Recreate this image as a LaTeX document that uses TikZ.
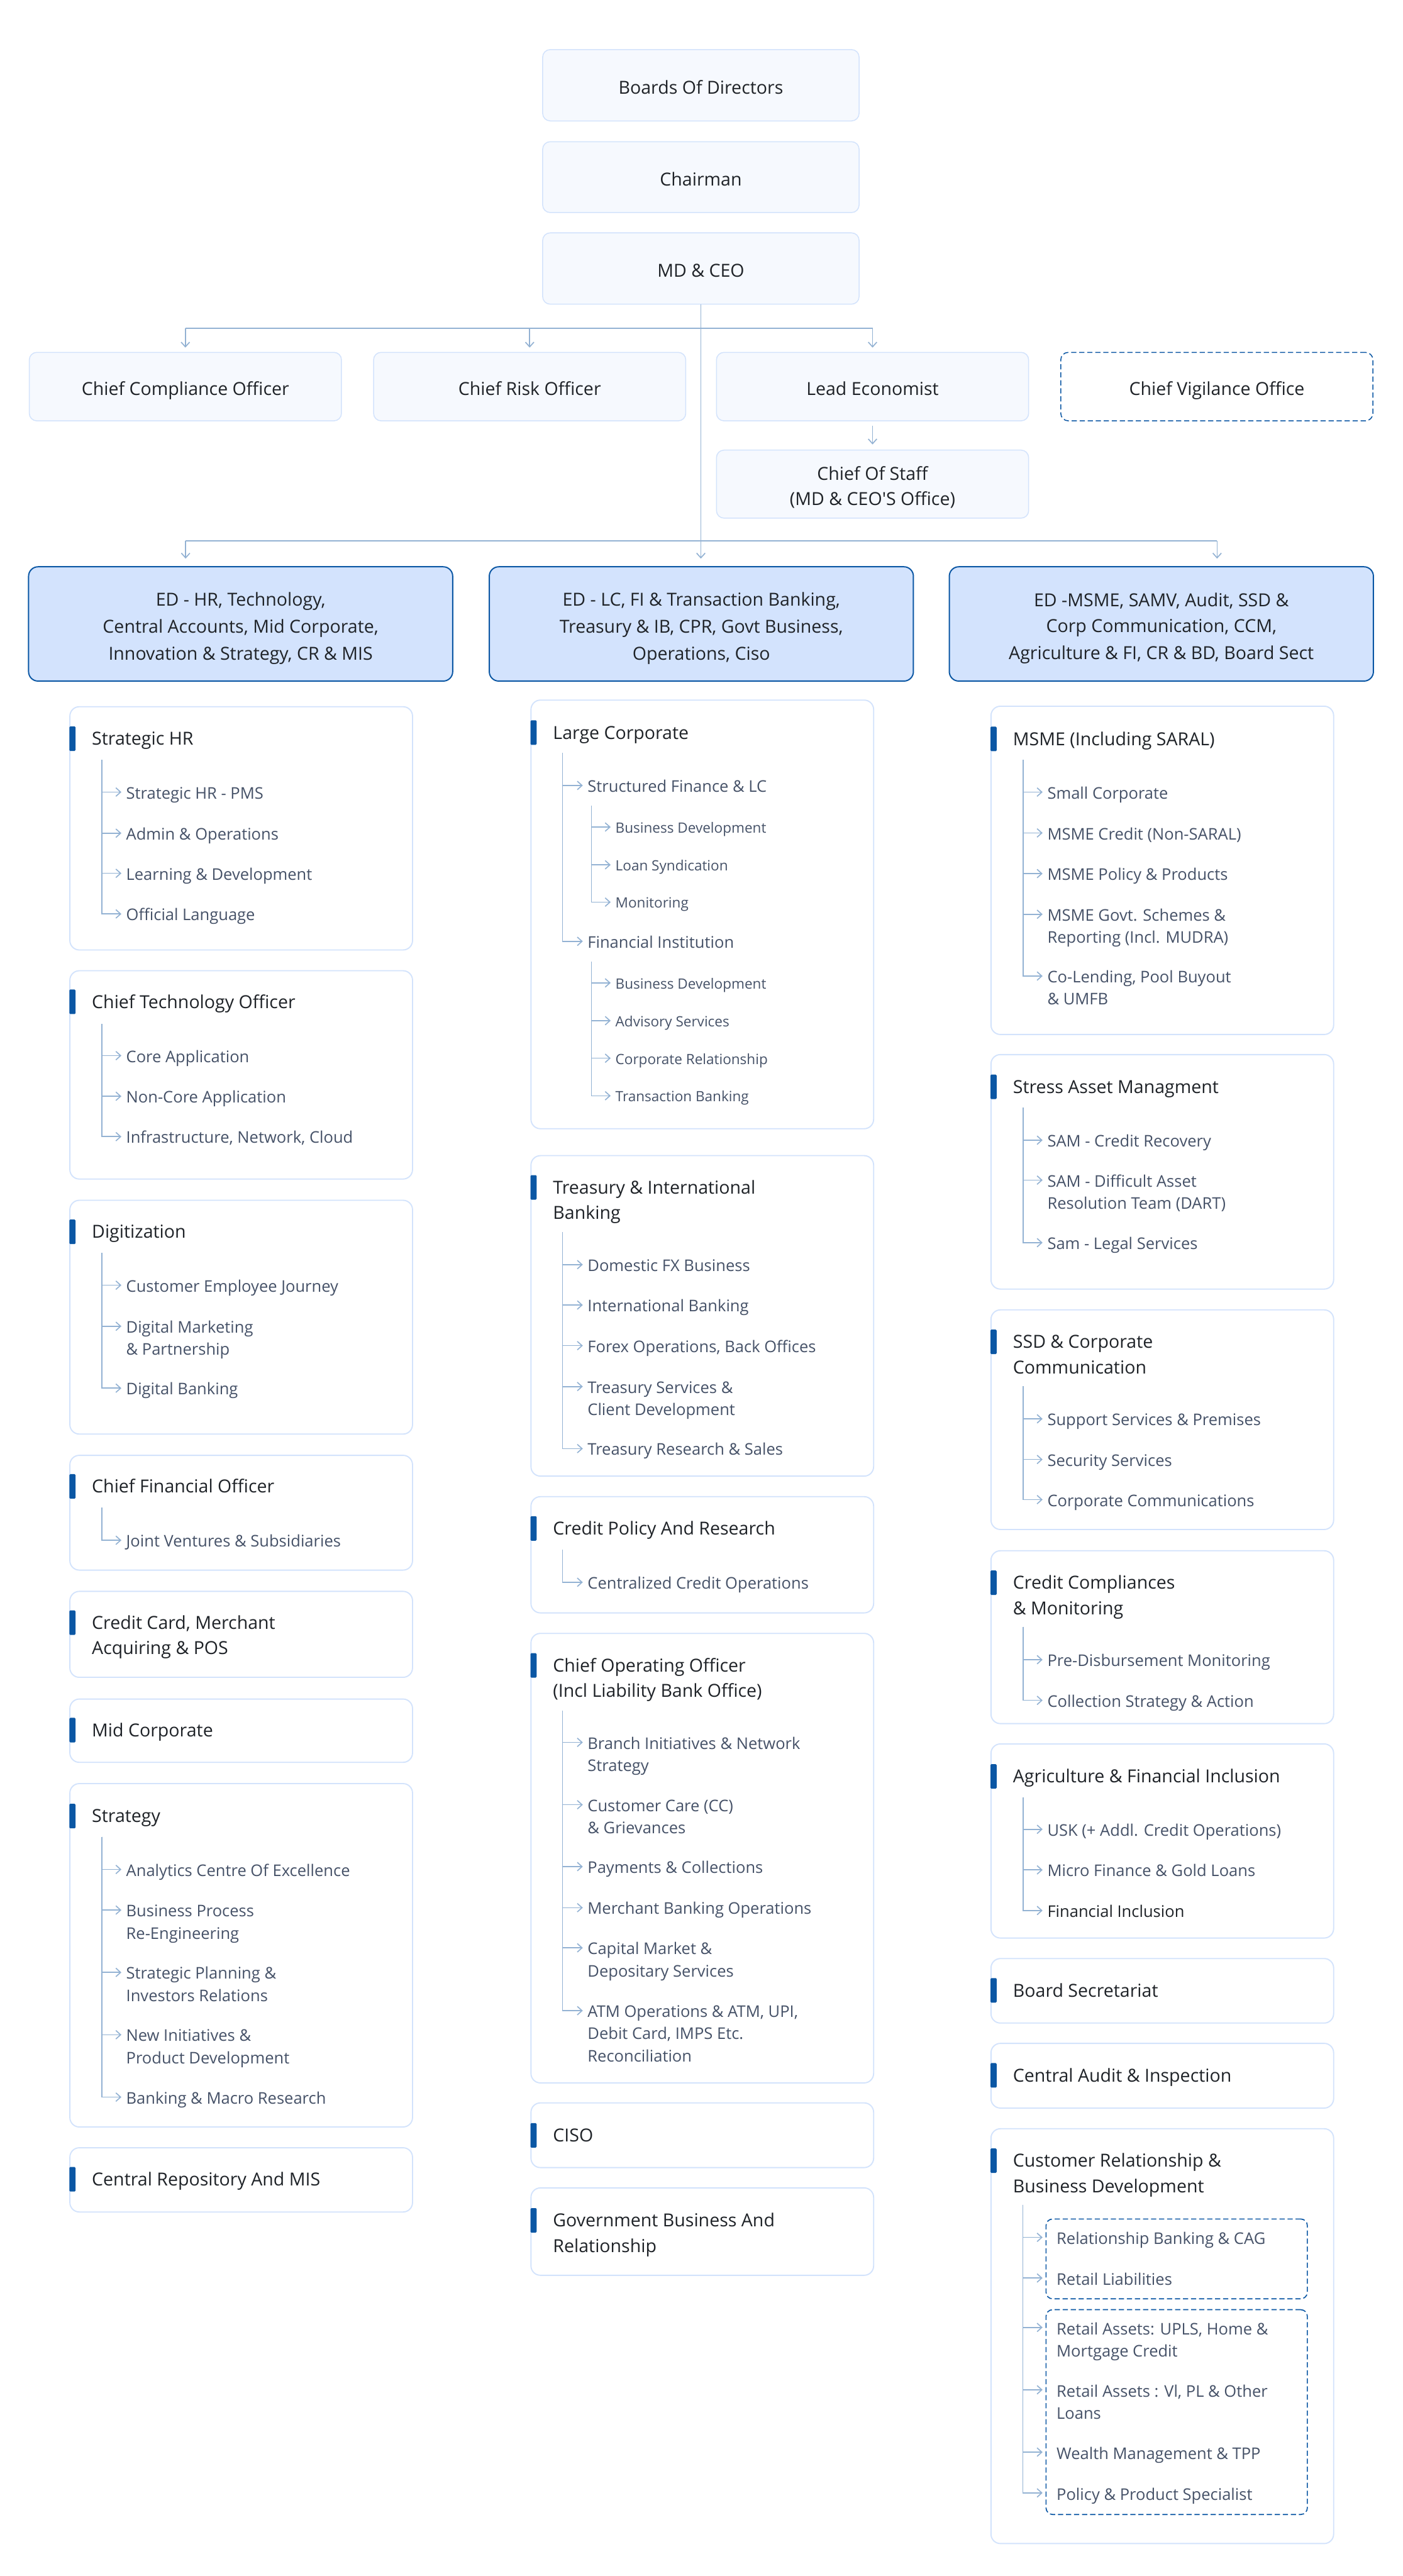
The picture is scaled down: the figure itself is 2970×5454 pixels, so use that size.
\documentclass[tikz,border=0pt]{standalone}
\usepackage{fontspec}
\setmainfont{Open Sans}
\usetikzlibrary{arrows.meta}
\definecolor{topfill}{HTML}{F6F9FE}
\definecolor{topline}{HTML}{D3E3FC}
\definecolor{edfill}{HTML}{D3E3FD}
\definecolor{darkblue}{HTML}{0B57A4}
\definecolor{grpline}{HTML}{D3E3FC}
\definecolor{lineblue}{HTML}{93B2D3}
\definecolor{titletext}{HTML}{1F2328}
\definecolor{childtext}{HTML}{465268}
\newcommand\fT{\fontsize{38}{54}\selectfont}
\newcommand\fC{\fontsize{34}{47}\selectfont}
\newcommand\fL{\fontsize{30}{42}\selectfont}
\newcommand\tst{\rule[-8.6pt]{0pt}{54pt}}
\newcommand\est{\rule[-6.6pt]{0pt}{54pt}}
\tikzset{
 topbox/.style={draw=topline, fill=topfill, line width=2pt, rounded corners=16pt, minimum width=670pt, minimum height=151pt, inner sep=0pt, align=center, font=\fT, text=titletext},
 subbox/.style={topbox, minimum width=661pt, minimum height=145pt},
 dashbox/.style={subbox, draw=darkblue, fill=white, dash pattern=on 11pt off 6pt},
 edbox/.style={draw=darkblue, fill=edfill, line width=2.6pt, rounded corners=20pt, minimum width=898pt, minimum height=242pt, inner sep=0pt, align=center, font=\fT, text=titletext},
 grpbox/.style={draw=grpline, fill=white, line width=2.5pt, rounded corners=20pt, minimum width=725.5pt, inner sep=0pt},
 bar/.style={fill=darkblue, draw=none, minimum width=13pt, minimum height=52pt, inner sep=0pt, rounded corners=2pt},
 gtitle/.style={font=\fT, text=titletext, align=left, inner sep=0pt, anchor=north west},
 childtxt/.style={font=\fC, text=childtext, align=left, inner xsep=10pt, inner ysep=0pt, anchor=north west},
 subtxt/.style={font=\fL, text=childtext, align=left, inner xsep=10pt, inner ysep=0pt, anchor=north west},
 conn/.style={draw=lineblue, line width=2.2pt},
 arr/.style={conn, -{Straight Barb[length=10pt,width=18pt]}},
 dashgrp/.style={draw=darkblue, dash pattern=on 11pt off 6pt, line width=2.2pt, rounded corners=14pt, inner sep=0pt}
}
% group box: name, left, top, bottom, first title line y, title
\newcommand\grp[6]{%
  \node[grpbox, minimum height={#4-#3}, anchor=north west] (#1) at (#2,#3) {};
  \node[bar, anchor=west] (#1-bar) at (#2,#5) {};
  \node[gtitle] (#1-t) at (#2+47.8,#5-24.4) {\strut#6};
}
% child: name, tree coordinate, tip x, first line y, text
\newcommand\chl[5]{%
  \node[childtxt] (#1) at (#3,#4-19) {\strut#5};
  \draw[arr] (#2) |- ([yshift=-19pt]#1.north west);
}
\newcommand\sch[5]{%
  \node[subtxt] (#1) at (#3,#4-17) {\strut#5};
  \draw[arr] (#2) |- ([yshift=-17pt]#1.north west);
}
\newcommand\chd[4]{%
  \node[childtxt, inner xsep=0pt] (#1) at (#3,#4-18) {\strut#2};
}
\newcommand\chdarr[3]{%
  \draw[arr, shorten >=#3] (#2) |- ([yshift=-18pt]#1.north west);
}
\begin{document}
\begin{tikzpicture}[x=1pt,y=-1pt]
\fill[white] (0,0) rectangle (2970,5454);
\useasboundingbox (0,0) rectangle (2970,5454);

% ---------- top ----------
\node[topbox] (bod) at (1484,180.5) {\tst Boards Of Directors};
\node[topbox, minimum height=150pt] (chair) at (1484,375) {\tst Chairman};
\node[topbox] (mdceo) at (1484,568.5) {\tst MD \& CEO};

\node[subbox] (cco) at (392.5,818.5) {\tst Chief Compliance Officer};
\node[subbox] (cro) at (1121.5,818.5) {\tst Chief Risk Officer};
\node[subbox] (le) at (1847.5,818.5) {\tst Lead Economist};
\node[dashbox] (cvo) at (2576.5,818.5) {\tst Chief Vigilance Office};
\node[subbox, minimum height=144pt] (cos) at (1847.5,1025) {\tst Chief Of Staff\\\tst(MD \& CEO\textquotesingle S Office)};

\node[edbox] (ed1) at (509.5,1321) {\est ED - HR, Technology,\\\est Central Accounts, Mid Corporate,\\\est Innovation \& Strategy, CR \& MIS};
\node[edbox] (ed2) at (1485,1321) {\est ED - LC, FI \& Transaction Banking,\\\est Treasury \& IB, CPR, Govt Business,\\\est Operations, Ciso};
\node[edbox] (ed3) at (2459,1321) {\est ED -MSME, SAMV, Audit, SSD \&\\\est Corp Communication, CCM,\\\est Agriculture \& FI, CR \& BD, Board Sect};

% top connectors
\coordinate (hA) at (392.5,695);
\coordinate (hB) at (1847.5,695);
\draw[conn] (hA) -- (hB);
\draw[arr, shorten >=9pt] (hA) -- (cco.north);
\draw[arr, shorten >=9pt] (cro.north |- hA) -- (cro.north);
\draw[arr, shorten >=9pt] (hB) -- (le.north);
\draw[arr, shorten >=11pt] ([yshift=-10pt]le.south) -- (cos.north);
\draw[arr, shorten >=16pt] (mdceo.south) -- (mdceo.south |- ed2.north);
\coordinate (eA) at (393,1145);
\coordinate (eC) at (2577,1145);
\draw[conn] (eA) -- (eC);
\draw[arr, shorten >=16pt] (eA) -- (eA |- ed1.north);
\draw[arr, shorten >=16pt] (eC) -- (eC |- ed3.north);

% ---------- column 1 ----------
\grp{shr}{146.7}{1495}{2010}{1564}{Strategic HR}
\coordinate (shr-r) at (215.6,1608.6);
\chl{shr-1}{shr-r}{257}{1677}{Strategic HR - PMS}
\chl{shr-2}{shr-r}{257}{1764}{Admin \& Operations}
\chl{shr-3}{shr-r}{257}{1849}{Learning \& Development}
\chl{shr-4}{shr-r}{257}{1935}{Official Language}

\grp{cto}{146.7}{2054}{2495}{2121}{Chief Technology Officer}
\coordinate (cto-r) at (215.6,2168);
\chl{cto-1}{cto-r}{257}{2235}{Core Application}
\chl{cto-2}{cto-r}{257}{2321}{Non-Core Application}
\chl{cto-3}{cto-r}{257}{2406.5}{Infrastructure, Network, Cloud}

\grp{dig}{146.7}{2540}{3035}{2608}{Digitization}
\coordinate (dig-r) at (215.6,2653);
\chl{dig-1}{dig-r}{257}{2721}{Customer Employee Journey}
\chl{dig-2}{dig-r}{257}{2808}{Digital Marketing\\\& Partnership}
\chl{dig-3}{dig-r}{257}{2939}{Digital Banking}

\grp{cfo}{146.7}{3080}{3323}{3147}{Chief Financial Officer}
\coordinate (cfo-r) at (215.6,3192);
\chl{cfo-1}{cfo-r}{257}{3261}{Joint Ventures \& Subsidiaries}

\grp{ccp}{146.7}{3368}{3550}{3435.5}{Credit Card, Merchant\\Acquiring \& POS}
\grp{mid}{146.7}{3596}{3730}{3663}{Mid Corporate}

\grp{stg}{146.7}{3775}{4502}{3845}{Strategy}
\coordinate (stg-r) at (215.6,3889);
\chl{stg-1}{stg-r}{257}{3958}{Analytics Centre Of Excellence}
\chl{stg-2}{stg-r}{257}{4044}{Business Process\\Re-Engineering}
\chl{stg-3}{stg-r}{257}{4176}{Strategic Planning \&\\Investors Relations}
\chl{stg-4}{stg-r}{257}{4308}{New Initiatives \&\\Product Development}
\chl{stg-5}{stg-r}{257}{4440}{Banking \& Macro Research}

\grp{crm}{146.7}{4546}{4682}{4614}{Central Repository And MIS}

% ---------- column 2 ----------
\grp{lc}{1123}{1481}{2388.5}{1551}{Large Corporate}
\coordinate (lc-r) at (1191,1594.5);
\chl{lc-1}{lc-r}{1234}{1663}{Structured Finance \& LC}
\chl{lc-2}{lc-r}{1234}{1993}{Financial Institution}
\coordinate (lc-ra) at (1252.5,1706);
\sch{lc-1a}{lc-ra}{1293}{1751}{Business Development}
\sch{lc-1b}{lc-ra}{1293}{1831}{Loan Syndication}
\sch{lc-1c}{lc-ra}{1293}{1910}{Monitoring}
\coordinate (lc-rb) at (1252.5,2036);
\sch{lc-2a}{lc-rb}{1293}{2081}{Business Development}
\sch{lc-2b}{lc-rb}{1293}{2161}{Advisory Services}
\sch{lc-2c}{lc-rb}{1293}{2240.5}{Corporate Relationship}
\sch{lc-2d}{lc-rb}{1293}{2320}{Transaction Banking}

\grp{tib}{1123}{2445.5}{3124}{2514}{Treasury \& International\\Banking}
\coordinate (tib-r) at (1191,2609);
\chl{tib-1}{tib-r}{1234}{2677.5}{Domestic FX Business}
\chl{tib-2}{tib-r}{1234}{2763}{International Banking}
\chl{tib-3}{tib-r}{1234}{2849}{Forex Operations, Back Offices}
\chl{tib-4}{tib-r}{1234}{2935.6}{Treasury Services \&\\Client Development}
\chl{tib-5}{tib-r}{1234}{3067}{Treasury Research \& Sales}

\grp{cpr}{1123}{3167.5}{3413.6}{3236}{Credit Policy And Research}
\coordinate (cpr-r) at (1191,3281);
\chl{cpr-1}{cpr-r}{1234}{3350}{Centralized Credit Operations}

\grp{coo}{1123}{3457}{4408.7}{3526}{Chief Operating Officer\\(Incl Liability Bank Office)}
\coordinate (coo-r) at (1191,3622);
\chl{coo-1}{coo-r}{1234}{3689}{Branch Initiatives \& Network\\Strategy}
\chl{coo-2}{coo-r}{1234}{3821}{Customer Care (CC)\\\& Grievances}
\chl{coo-3}{coo-r}{1234}{3952}{Payments \& Collections}
\chl{coo-4}{coo-r}{1234}{4039}{Merchant Banking Operations}
\chl{coo-5}{coo-r}{1234}{4124}{Capital Market \&\\Depositary Services}
\chl{coo-6}{coo-r}{1234}{4257}{ATM Operations \& ATM, UPI,\\Debit Card, IMPS Etc.\\Reconciliation}

\grp{ciso}{1123}{4451}{4588}{4521}{CISO}
\grp{gov}{1123}{4631}{4816}{4701}{Government Business And\\Relationship}

% ---------- column 3 ----------
\grp{msme}{2097}{1494}{2189}{1564.5}{MSME (Including SARAL)}
\coordinate (msme-r) at (2166,1608.5);
\chl{msme-1}{msme-r}{2207.5}{1677}{Small Corporate}
\chl{msme-2}{msme-r}{2207.5}{1763.5}{MSME Credit (Non-SARAL)}
\chl{msme-3}{msme-r}{2207.5}{1849.6}{MSME Policy \& Products}
\chl{msme-4}{msme-r}{2207.5}{1935.7}{MSME Govt. Schemes \&\\Reporting (Incl. MUDRA)}
\chl{msme-5}{msme-r}{2207.5}{2066.5}{Co-Lending, Pool Buyout\\\& UMFB}

\grp{sam}{2097}{2231.5}{2728}{2301}{Stress Asset Managment}
\coordinate (sam-r) at (2166,2345);
\chl{sam-1}{sam-r}{2207.5}{2414}{SAM - Credit Recovery}
\chl{sam-2}{sam-r}{2207.5}{2498.5}{SAM - Difficult Asset\\Resolution Team (DART)}
\chl{sam-3}{sam-r}{2207.5}{2631}{Sam - Legal Services}

\grp{ssd}{2097}{2772}{3237}{2841}{SSD \& Corporate\\Communication}
\coordinate (ssd-r) at (2166,2935);
\chl{ssd-1}{ssd-r}{2207.5}{3004}{Support Services \& Premises}
\chl{ssd-2}{ssd-r}{2207.5}{3090}{Security Services}
\chl{ssd-3}{ssd-r}{2207.5}{3175}{Corporate Communications}

\grp{ccmon}{2097}{3282}{3648}{3351}{Credit Compliances\\\& Monitoring}
\coordinate (ccmon-r) at (2166,3444);
\chl{ccmon-1}{ccmon-r}{2207.5}{3514}{Pre-Disbursement Monitoring}
\chl{ccmon-2}{ccmon-r}{2207.5}{3600}{Collection Strategy \& Action}

\grp{agr}{2097}{3691}{4102}{3761}{Agriculture \& Financial Inclusion}
\coordinate (agr-r) at (2166,3805);
\chl{agr-1}{agr-r}{2207.5}{3873}{USK (+ Addl. Credit Operations)}
\chl{agr-2}{agr-r}{2207.5}{3959}{Micro Finance \& Gold Loans}
\chl{agr-3}{agr-r}{2207.5}{4045}{\color{titletext}Financial Inclusion}

\grp{bs}{2097}{4145.4}{4282}{4214}{Board Secretariat}
\grp{cai}{2097}{4325}{4462}{4394}{Central Audit \& Inspection}

\grp{crbd}{2097}{4505.7}{5384}{4574.6}{Customer Relationship \&\\Business Development}
\coordinate (crbd-r) at (2165.5,4668);
\node[dashgrp, minimum width=553.3pt, minimum height=169pt, anchor=north west] (crbd-g1) at (2213.7,4697) {};
\node[dashgrp, minimum width=553.3pt, minimum height=433.6pt, anchor=north west] (crbd-g2) at (2213.7,4889) {};
\chd{crbd-1}{Relationship Banking \& CAG}{2237}{4737}
\chd{crbd-2}{Retail Liabilities}{2237}{4823}
\chd{crbd-3}{Retail Assets: UPLS, Home \&\\Mortgage Credit}{2237}{4927.7}
\chd{crbd-4}{Retail Assets : Vl, PL \& Other\\Loans}{2237}{5059.7}
\chd{crbd-5}{Wealth Management \& TPP}{2237}{5191.7}
\chd{crbd-6}{Policy \& Product Specialist}{2237}{5278}
\chdarr{crbd-1}{crbd-r}{29.5pt}
\chdarr{crbd-2}{crbd-r}{29.5pt}
\chdarr{crbd-3}{crbd-r}{29.5pt}
\chdarr{crbd-4}{crbd-r}{29.5pt}
\chdarr{crbd-5}{crbd-r}{29.5pt}
\chdarr{crbd-6}{crbd-r}{29.5pt}
\end{tikzpicture}
\end{document}
